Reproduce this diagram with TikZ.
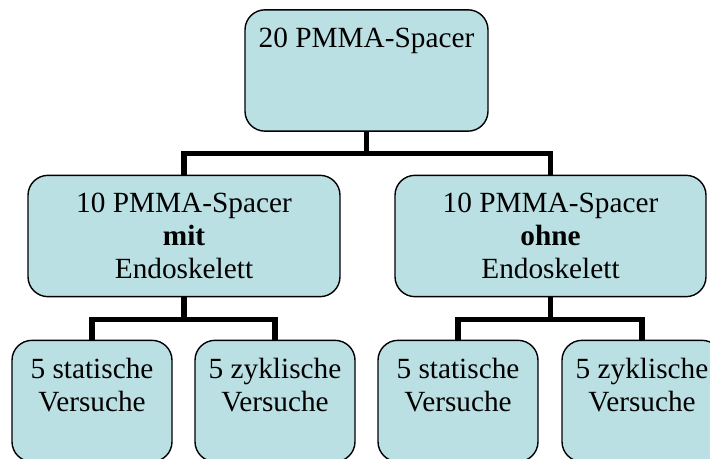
\documentclass[tikz,border=0pt]{standalone}
\usepackage{fontspec}
\setmainfont{Liberation Serif}
\usepackage{xcolor}
\definecolor{boxfill}{RGB}{187,224,227}

\begin{document}
\begin{tikzpicture}[x=0.03cm,y=-0.03cm,
box/.style={draw=black,line width=1.2pt,fill=boxfill,rounded corners=0.6cm,align=center,inner sep=0pt,minimum height=3.64cm,font=\fontsize{25}{28.2}\selectfont},
conn/.style={line width=4.3pt}]
\path[use as bounding box,clip] (0,0) rectangle (710,459);
\node [box,minimum width=7.29cm] (t) at (366.5,70.5) {20 PMMA-Spacer\\\mbox{}\\\mbox{}}; 
\node [box,minimum width=9.36cm] (m1) at (184,236) {10 PMMA-Spacer\\\textbf{mit}\\Endoskelett}; 
\node [box,minimum width=9.33cm] (m2) at (550.5,236) {10 PMMA-Spacer\\\textbf{ohne}\\Endoskelett}; 
\node [box,minimum width=4.8cm] (b1) at (92,401) {5 statische\\Versuche\\\mbox{}}; 
\node [box,minimum width=4.8cm] (b2) at (275,401) {5 zyklische\\Versuche\\\mbox{}}; 
\node [box,minimum width=4.8cm] (b3) at (458,401) {5 statische\\Versuche\\\mbox{}}; 
\node [box,minimum width=4.8cm] (b4) at (642,401) {5 zyklische\\Versuche\\\mbox{}}; 

\draw[conn] (t.south) -- ++(0,22) -| (m1.north); 
\draw[conn] (t.south) -- ++(0,22) -| (m2.north); 
\draw[conn] (m1.south) -- ++(0,22) -| (b1.north); 
\draw[conn] (m1.south) -- ++(0,22) -| (b2.north); 
\draw[conn] (m2.south) -- ++(0,22) -| (b3.north); 
\draw[conn] (m2.south) -- ++(0,22) -| (b4.north); 
\end{tikzpicture}
\end{document}
